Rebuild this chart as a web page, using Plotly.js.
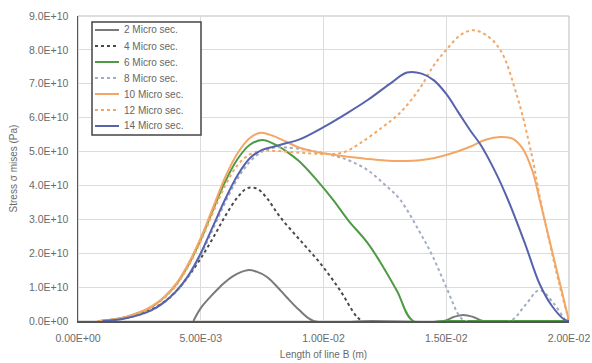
<!DOCTYPE html>
<html>
<head>
<meta charset="utf-8">
<script src="https://cdn.plot.ly/plotly-3.0.1.min.js"></script>
<style>html,body{margin:0;padding:0;background:#fff;}#chart{width:592px;height:363px;}</style>
</head>
<body>
<div id="chart"></div>
<script>
// x in metres, y in Pa
const names = ["2 Micro sec.","4 Micro sec.","6 Micro sec.","8 Micro sec.","10 Micro sec.","12 Micro sec.","14 Micro sec."];

const x2 = [0.0047,0.0050,0.0054,0.0058,0.0063,0.0069,0.0073,0.0077,0.0081,0.0085,0.0090,0.0096,0.0120,0.0149,0.0153,0.0157,0.0161,0.0165,0.0180,0.0200];
const y2 = [0,0.38e10,0.72e10,1.02e10,1.32e10,1.50e10,1.45e10,1.30e10,1.02e10,0.70e10,0.33e10,0,0,0,0.12e10,0.18e10,0.12e10,0,0,0];

const x4 = [0.0009,0.0015,0.0020,0.0025,0.0030,0.0035,0.0040,0.0045,0.0050,0.0055,0.0060,0.0065,0.0069,0.0073,0.0077,0.00823,0.00904,0.00986,0.01067,0.01136,0.0116];
const y4 = [0,0.04e10,0.10e10,0.20e10,0.34e10,0.56e10,0.88e10,1.32e10,1.85e10,2.45e10,3.10e10,3.65e10,3.92e10,3.90e10,3.62e10,3.07e10,2.39e10,1.71e10,0.91e10,0.12e10,0];

const x6 = [0.0008,0.0010,0.0015,0.0020,0.0025,0.0030,0.0035,0.0040,0.0045,0.0050,0.0055,0.0060,0.0065,0.0070,0.0075,0.0080,0.0085,0.0090,0.0097,0.0104,0.0110,0.0118,0.0123,0.0130,0.01365,0.0150,0.0175,0.0200];
const y6 = [0,0.01e10,0.05e10,0.13e10,0.25e10,0.42e10,0.69e10,1.08e10,1.66e10,2.40e10,3.28e10,4.12e10,4.78e10,5.20e10,5.34e10,5.22e10,5.00e10,4.72e10,4.18e10,3.57e10,2.98e10,2.30e10,1.75e10,0.88e10,0,0,0,0];

const x8 = [0.0010,0.0015,0.0020,0.0025,0.0030,0.0035,0.0040,0.0045,0.0050,0.0055,0.0060,0.0065,0.0070,0.0075,0.0080,0.0085,0.0093,0.0102,0.0110,0.0118,0.0125,0.0131,0.0139,0.01446,0.0150,0.01556,0.0158,0.0176,0.0182,0.0188,0.0194,0.0199,0.0200];
const y8 = [0,0.03e10,0.09e10,0.18e10,0.32e10,0.54e10,0.86e10,1.32e10,1.95e10,2.72e10,3.50e10,4.20e10,4.70e10,5.00e10,5.12e10,5.12e10,5.05e10,4.92e10,4.75e10,4.45e10,4.02e10,3.60e10,2.65e10,1.89e10,1.00e10,0.12e10,0,0,0.45e10,0.91e10,0.50e10,0,0];

const x10 = [0.0008,0.0010,0.0015,0.0020,0.0025,0.0030,0.0035,0.0040,0.0045,0.0050,0.0055,0.0060,0.0065,0.0070,0.0074,0.0078,0.0083,0.0090,0.0095,0.0100,0.0110,0.0120,0.0130,0.0140,0.0150,0.0160,0.0166,0.0172,0.0177,0.0181,0.0185,0.0188,0.0192,0.0196,0.0200];
const y10 = [0,0.01e10,0.05e10,0.13e10,0.25e10,0.43e10,0.70e10,1.10e10,1.70e10,2.45e10,3.35e10,4.25e10,4.95e10,5.40e10,5.55e10,5.50e10,5.35e10,5.12e10,5.02e10,4.95e10,4.85e10,4.77e10,4.72e10,4.75e10,4.90e10,5.15e10,5.35e10,5.43e10,5.38e10,5.10e10,4.45e10,3.60e10,2.40e10,1.20e10,0];

const x12 = [0.0008,0.0010,0.0015,0.0020,0.0025,0.0030,0.0035,0.0040,0.0045,0.0050,0.0055,0.0060,0.0065,0.0070,0.0075,0.0080,0.0090,0.0100,0.0108,0.0115,0.0124,0.0131,0.0136,0.0140,0.0145,0.0150,0.0156,0.0161,0.0166,0.0172,0.0179,0.0185,0.0188,0.0192,0.0196,0.0200];
const y12 = [0,0.01e10,0.05e10,0.12e10,0.24e10,0.41e10,0.67e10,1.05e10,1.62e10,2.35e10,3.20e10,4.00e10,4.60e10,4.92e10,5.02e10,5.02e10,4.97e10,4.93e10,4.97e10,5.25e10,5.72e10,6.13e10,6.55e10,6.95e10,7.55e10,8.00e10,8.45e10,8.58e10,8.45e10,8.00e10,6.60e10,4.84e10,3.70e10,2.35e10,1.10e10,0];

const x14 = [0.0010,0.0015,0.0020,0.0025,0.0030,0.0035,0.0040,0.0045,0.0050,0.0055,0.0060,0.0065,0.0070,0.0075,0.0080,0.0085,0.0090,0.0100,0.0110,0.0118,0.0128,0.0134,0.0140,0.0145,0.0150,0.0155,0.0160,0.0164,0.0170,0.0175,0.0182,0.0188,0.0193,0.0198,0.0200];
const y14 = [0,0.03e10,0.09e10,0.18e10,0.32e10,0.55e10,0.88e10,1.35e10,2.00e10,2.80e10,3.60e10,4.30e10,4.80e10,5.05e10,5.15e10,5.25e10,5.35e10,5.72e10,6.15e10,6.52e10,7.05e10,7.33e10,7.30e10,7.10e10,6.70e10,6.15e10,5.60e10,5.20e10,4.40e10,3.60e10,2.30e10,1.10e10,0.45e10,0.05e10,0];

const xTickVals = [0,0.005,0.01,0.015,0.02];
const xTickText = ["0.00E+00","5.00E-03","1.00E-02","1.50E-02","2.00E-02"];
const yTickVals = [0,1e10,2e10,3e10,4e10,5e10,6e10,7e10,8e10,9e10];
const yTickText = ["0.0E+00","1.0E+10","2.0E+10","3.0E+10","4.0E+10","5.0E+10","6.0E+10","7.0E+10","8.0E+10","9.0E+10"];

const xs = [x2,x4,x6,x8,x10,x12,x14];
const ys = [y2,y4,y6,y8,y10,y12,y14];
const colors = ["#7a7a7a","#4a4a4a","#4f9a45","#a2adc0","#f2a766","#f2a766","#5863ad"];
const dashes = ["solid","dot","solid","dot","solid","dot","solid"];

const traces = names.map((n,i)=>({
  x: xs[i], y: ys[i], name: n, type: "scatter", mode: "lines",
  line: {color: colors[i], width: 2, dash: dashes[i], shape: "spline", smoothing: 1},
  showlegend: false
}));

// legend box (layout only) in paper coordinates
const W = 592, H = 363, mL = 78, mR = 23, mT = 16, mB = 42;
const pw = W - mL - mR, ph = H - mT - mB;
const px = v => (v - mL) / pw;
const py = v => (H - mB - v) / ph;
const shapes = [
  {type: "rect", xref: "paper", yref: "paper", x0: 0, x1: 1, y0: 0, y1: 1,
   line: {color: "#bbb", width: 1}, layer: "below"},
  {type: "rect", xref: "paper", yref: "paper", x0: px(92), x1: px(201), y0: py(135), y1: py(22),
   line: {color: "#444", width: 1.5}, fillcolor: "#fff", layer: "above"}
];
const annotations = [];
names.forEach((n,i)=>{
  const yy = 30 + i * 16;
  shapes.push({type: "line", xref: "paper", yref: "paper", x0: px(95), x1: px(119), y0: py(yy), y1: py(yy),
    line: {color: colors[i], width: 2, dash: dashes[i]}, layer: "above"});
  annotations.push({xref: "paper", yref: "paper", x: px(122), y: py(yy), xanchor: "left", yanchor: "middle",
    text: n, showarrow: false, font: {size: 10, color: "#666"}});
});

const layout = {
  width: W, height: H,
  margin: {l: mL, r: mR, t: mT, b: mB},
  paper_bgcolor: "#fff", plot_bgcolor: "#fff",
  font: {family: "Liberation Sans, Arial, sans-serif", size: 10.5, color: "#6a6a6a"},
  showlegend: false,
  xaxis: {range: [0, 0.02], tickvals: xTickVals, ticktext: xTickText,
    showgrid: true, gridcolor: "#dcdcdc", gridwidth: 1,
    showline: true, linecolor: "#555", linewidth: 1.5, layer: "below traces",
    zeroline: false, ticks: "", ticklabelstandoff: 7,
    title: {text: "Length of line B (m)", font: {size: 10, color: "#6a6a6a"}, standoff: 8}},
  yaxis: {range: [0, 9e10], tickvals: yTickVals, ticktext: yTickText,
    showgrid: true, gridcolor: "#dcdcdc", gridwidth: 1,
    showline: true, linecolor: "#555", linewidth: 1.5, layer: "below traces",
    zeroline: false, ticks: "", ticklabelstandoff: 6,
    title: {text: "Stress σ mises (Pa)", font: {size: 10, color: "#6a6a6a"}, standoff: 9}},
  shapes: shapes,
  annotations: annotations
};

Plotly.newPlot("chart", traces, layout, {staticPlot: true, displayModeBar: false});
</script>
</body>
</html>
